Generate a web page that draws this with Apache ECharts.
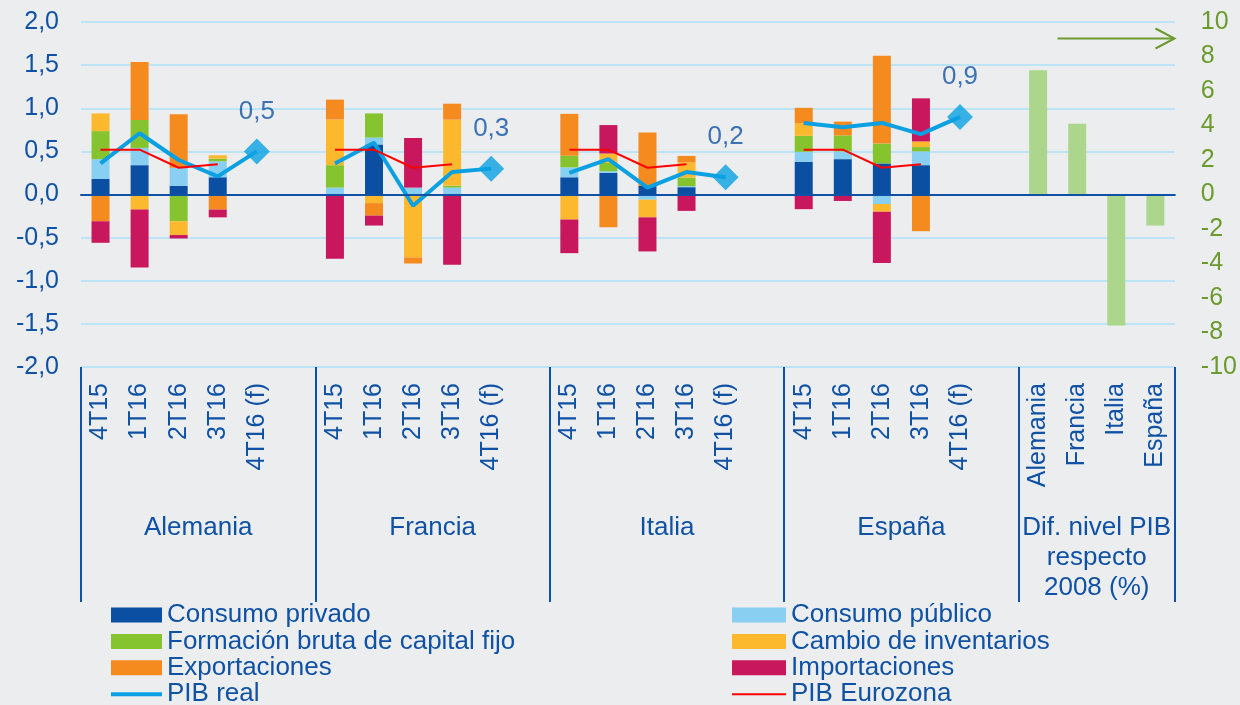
<!DOCTYPE html>
<html>
<head>
<meta charset="utf-8">
<script src="https://cdn.jsdelivr.net/npm/echarts@6/dist/echarts.min.js"></script>
<style>
  html, body { margin: 0; padding: 0; background: #ecedef; }
  #chart { width: 1240px; height: 705px; }
</style>
</head>
<body>
<div id="chart"></div>
<script>
const countries = ['Alemania', 'Francia', 'Italia', 'España'];
const quarters = ['4T15', '1T16', '2T16', '3T16', '4T16 (f)', ''];
const difTitle = 'Dif. nivel PIB\nrespecto\n2008 (%)';

// contribuciones por pais: 4T15, 1T16, 2T16, 3T16
const consumoPrivado = [[0.18, 0.34, 0.10, 0.20], [0, 0.58, 0, 0], [0.20, 0.25, 0.10, 0.085], [0.38, 0.41, 0.36, 0.34]];
const consumoPublico = [[0.23, 0.20, 0.21, 0.185], [0.08, 0.08, 0.08, 0.08], [0.115, 0.02, -0.06, 0.012], [0.115, 0.09, -0.11, 0.16]];
const fbcf = [[0.325, 0.325, -0.31, 0.03], [0.26, 0.28, 0, 0.023], [0.135, 0.095, 0, 0.10], [0.185, 0.185, 0.23, 0.05]];
const inventarios = [[0.205, -0.175, -0.16, 0.04], [0.53, -0.10, -0.73, 0.765], [-0.29, 0.11, -0.205, 0.175], [0.145, 0, -0.09, 0.065]];
const exportaciones = [[-0.31, 0.67, 0.62, -0.175], [0.23, -0.145, -0.07, 0.185], [0.485, -0.38, 0.62, 0.075], [0.18, 0.16, 1.02, -0.425]];
const importaciones = [[-0.25, -0.67, -0.04, -0.09], [-0.745, -0.115, 0.575, -0.815], [-0.39, 0.33, -0.395, -0.19], [-0.17, -0.075, -0.595, 0.50]];

// PIB real: 4T15 .. 4T16 (f)
const pibReal = [[0.36, 0.71, 0.40, 0.21, 0.5], [0.36, 0.60, -0.13, 0.26, 0.3], [0.25, 0.41, 0.08, 0.26, 0.2], [0.83, 0.78, 0.83, 0.70, 0.9]];
const pibEurozona = [[0.52, 0.52, 0.31, 0.35], [0.52, 0.52, 0.31, 0.35], [0.52, 0.52, 0.31, 0.35], [0.52, 0.52, 0.31, 0.35]];

// Dif. nivel PIB respecto 2008 (%), eje derecho
const difNivelPib = [7.2, 4.1, -7.6, -1.8];

const leftTicks = ['-2,0', '-1,5', '-1,0', '-0,5', '0,0', '0,5', '1,0', '1,5', '2,0'];

const blue = '#0f52a5';
const green = '#6b9b2e';

const categories = [];
countries.forEach(() => quarters.forEach(q => categories.push(q)));
countries.forEach(c => categories.push(c));

function spread(rows) {
  const out = [];
  rows.forEach(r => quarters.forEach((q, i) => out.push(r[i] === undefined ? '-' : r[i])));
  countries.forEach(() => out.push('-'));
  return out;
}

function forecast(rows) {
  const out = [];
  rows.forEach(r => quarters.forEach((q, i) => out.push(i === 4 ? r[4] : '-')));
  countries.forEach(() => out.push('-'));
  return out;
}

const difData = categories.map((c, i) => i < countries.length * quarters.length ? '-' : difNivelPib[i - countries.length * quarters.length]);

const groupNames = countries.concat([difTitle]);
const groupEdges = [0, 6, 12, 18, 24, 28];
const groupCenters = [3, 9, 15, 21, 26];

function barSeries(name, rows, color) {
  return {
    name: name, type: 'bar', stack: 'a', barWidth: 18,
    data: spread(rows), itemStyle: { color: color }
  };
}

const legendBase = {
  orient: 'vertical', top: 602, height: 140, padding: 0, itemWidth: 51, itemHeight: 15, itemGap: 0.4,
  textStyle: { fontSize: 26, color: blue, lineHeight: 25 }
};

const chart = echarts.init(document.getElementById('chart'));
chart.setOption({
  backgroundColor: '#ecedef',
  animation: false,
  textStyle: { fontFamily: 'Liberation Sans, Arial, sans-serif' },
  grid: { left: 81, right: 63, top: 22, bottom: 338 },
  legend: [Object.assign({}, legendBase, {
    left: 109,
    data: [
      { name: 'Consumo privado', icon: 'rect' },
      { name: 'Formación bruta de capital fijo', icon: 'rect' },
      { name: 'Exportaciones', icon: 'rect' },
      { name: 'PIB real', itemStyle: { opacity: 0 }, lineStyle: { width: 4 } }
    ]
  }), Object.assign({}, legendBase, {
    left: 731, itemWidth: 54,
    data: [
      { name: 'Consumo público', icon: 'rect' },
      { name: 'Cambio de inventarios', icon: 'rect' },
      { name: 'Importaciones', icon: 'rect' },
      { name: 'PIB Eurozona', itemStyle: { opacity: 0 }, lineStyle: { width: 2 } }
    ]
  })],
  xAxis: [{
    type: 'category', data: categories, position: 'bottom', z: 5,
    axisLine: { onZero: true, lineStyle: { color: blue, width: 2 } },
    axisTick: { length: 6, interval: 0, lineStyle: { color: blue, width: 2 } },
    axisLabel: { show: false }
  }, {
    type: 'category', data: categories, position: 'bottom',
    axisLine: { show: false, onZero: false },
    axisTick: { length: 126, interval: 0, lineStyle: { color: blue, width: 2 } },
    axisLabel: { interval: 0, rotate: 90, margin: 16, fontSize: 25, color: blue }
  }, {
    type: 'value', min: 0, max: 28, position: 'bottom',
    axisLine: { show: false, onZero: false },
    splitLine: { show: false },
    axisTick: { customValues: groupEdges, length: 235, lineStyle: { color: blue, width: 2 } },
    axisLabel: {
      customValues: groupCenters, margin: 146, fontSize: 26, lineHeight: 30, color: blue,
      formatter: v => groupNames[groupCenters.indexOf(v)]
    }
  }],
  yAxis: [{
    type: 'value', min: -2, max: 2, interval: 0.5,
    axisLine: { show: false }, axisTick: { show: false },
    splitLine: { lineStyle: { color: '#bde4f6', width: 2 } },
    axisLabel: { fontSize: 25, color: blue, margin: 22, formatter: v => leftTicks[Math.round((v + 2) * 2)] }
  }, {
    type: 'value', min: -10, max: 10, interval: 2, position: 'right',
    axisLine: { show: false }, axisTick: { show: false }, splitLine: { show: false },
    axisLabel: { fontSize: 25, color: green, margin: 26 }
  }],
  series: [
    barSeries('Consumo privado', consumoPrivado, '#0b4fa2'),
    barSeries('Consumo público', consumoPublico, '#88cff1'),
    barSeries('Formación bruta de capital fijo', fbcf, '#86c42f'),
    barSeries('Cambio de inventarios', inventarios, '#fdb92e'),
    barSeries('Exportaciones', exportaciones, '#f58a1f'),
    barSeries('Importaciones', importaciones, '#c8175d'),
    {
      name: 'Dif. nivel PIB', type: 'bar', stack: 'a', barWidth: 18, yAxisIndex: 1,
      data: difData, itemStyle: { color: '#acd68b' }
    },
    {
      name: 'PIB real', type: 'line', data: spread(pibReal), symbol: 'none', z: 4,
      lineStyle: { color: '#0aa0e2', width: 4 }, itemStyle: { color: '#0aa0e2' }
    },
    {
      name: 'PIB Eurozona', type: 'line', data: spread(pibEurozona), symbol: 'none', z: 5,
      lineStyle: { color: '#ff0000', width: 2 }, itemStyle: { color: '#ff0000' }
    },
    {
      name: 'PIB real (f)', type: 'scatter', data: forecast(pibReal), symbol: 'diamond', symbolSize: 26, z: 6,
      itemStyle: { color: '#0aa0e2' },
      label: {
        show: true, position: 'top', distance: 14, fontSize: 26, color: blue,
        formatter: p => String(p.value).replace('.', ',')
      }
    }
  ],
  graphic: [{
    type: 'group', left: 1055, top: 26,
    children: [
      { type: 'line', shape: { x1: 0, y1: 10, x2: 116, y2: 10 }, style: { stroke: green, lineWidth: 2 } },
      { type: 'polyline', shape: { points: [[98, 0], [117, 10], [98, 20]] }, style: { stroke: green, lineWidth: 2, fill: null } }
    ]
  }]
});
</script>
</body>
</html>
